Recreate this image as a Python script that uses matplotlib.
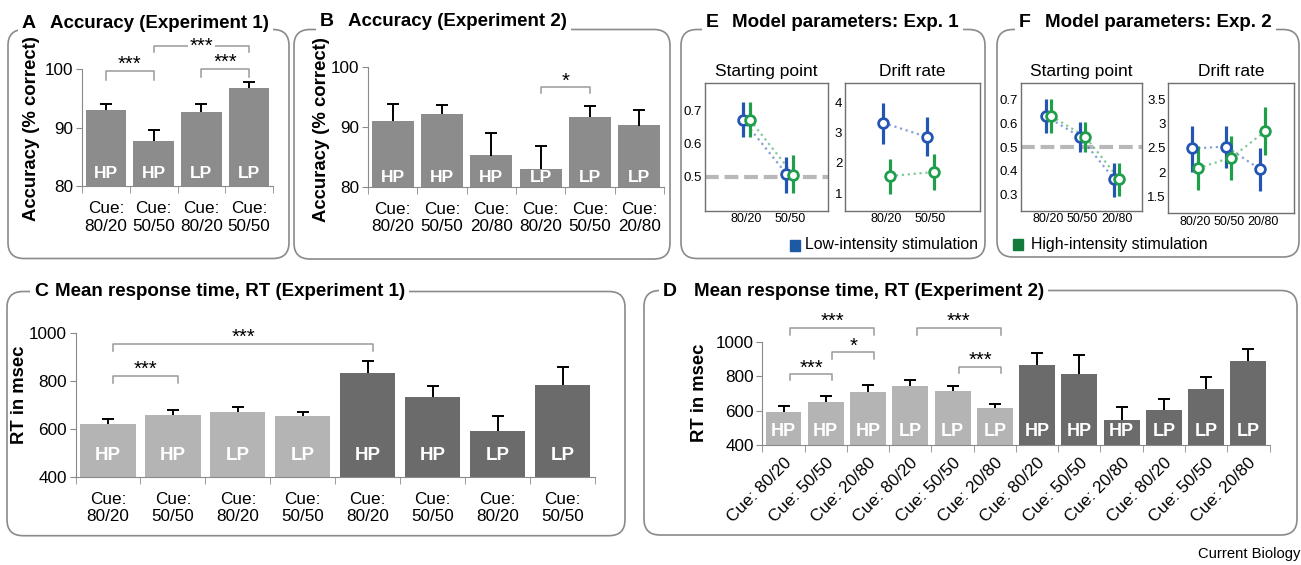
import numpy as np
import matplotlib
matplotlib.use('Agg')
import matplotlib.pyplot as plt
from matplotlib.patches import FancyBboxPatch, Rectangle

plt.rcParams['font.family'] = ['Liberation Sans', 'DejaVu Sans']

# ---- data ----
# A: accuracy, experiment 1
acc1_mean = [93.0, 87.7, 92.6, 96.7]
acc1_sem = [1.1, 1.9, 1.5, 1.0]
acc1_tags = ['HP', 'HP', 'LP', 'LP']
acc1_cues = ['80/20', '50/50', '80/20', '50/50']

# B: accuracy, experiment 2
acc2_mean = [91.0, 92.1, 85.2, 82.9, 91.6, 90.2]
acc2_sem = [2.8, 1.6, 3.8, 3.9, 1.9, 2.6]
acc2_tags = ['HP', 'HP', 'HP', 'LP', 'LP', 'LP']
acc2_cues = ['80/20', '50/50', '20/80', '80/20', '50/50', '20/80']

# C: RT, experiment 1 (first four light, last four dark)
rt1_mean = [618, 657, 668, 653, 831, 731, 590, 781]
rt1_sem = [22, 22, 24, 18, 51, 47, 63, 75]
rt1_tags = ['HP', 'HP', 'LP', 'LP', 'HP', 'HP', 'LP', 'LP']
rt1_cues = ['80/20', '50/50'] * 4
rt1_shade = ['light'] * 4 + ['dark'] * 4

# D: RT, experiment 2
rt2_mean = [590, 648, 706, 741, 712, 613, 863, 810, 543, 601, 723, 888]
rt2_sem = [38, 37, 40, 36, 31, 23, 73, 111, 80, 68, 72, 71]
rt2_tags = ['HP', 'HP', 'HP', 'LP', 'LP', 'LP'] * 2
rt2_cues = ['80/20', '50/50', '20/80'] * 4
rt2_shade = ['light'] * 6 + ['dark'] * 6

# significance brackets: (bar i, bar j, top y, leg y, label)
acc1_sig = [(0, 1, 99.7, 98.1, '***'), (2, 3, 100.0, 98.6, '***'), (1, 3, 103.9, 102.9, '***')]
acc2_sig = [(3, 4, 96.6, 95.6, '*')]
rt1_sig = [(0, 1, 820, 792, '***'), (0, 4, 953, 925, '***')]
rt2_sig = [(0, 1, 812, 777, '***'), (1, 2, 938, 901, '*'), (0, 2, 1081, 1039, '***'),
           (3, 5, 1081, 1039, '***'), (4, 5, 855, 820, '***')]

# E: model parameters, experiment 1
e_cues = ['80/20', '50/50']
e_sp_low, e_sp_low_lo, e_sp_low_hi = [0.670, 0.509], [0.618, 0.453], [0.725, 0.561]
e_sp_high, e_sp_high_lo, e_sp_high_hi = [0.670, 0.507], [0.618, 0.453], [0.725, 0.565]
e_dr_low, e_dr_low_lo, e_dr_low_hi = [3.32, 2.86], [2.64, 2.23], [3.98, 3.50]
e_dr_high, e_dr_high_lo, e_dr_high_hi = [1.57, 1.70], [0.98, 1.11], [2.12, 2.29]

# F: model parameters, experiment 2
f_cues = ['80/20', '50/50', '20/80']
f_sp_low, f_sp_low_lo, f_sp_low_hi = [0.632, 0.544, 0.364], [0.561, 0.477, 0.289], [0.703, 0.608, 0.431]
f_sp_high, f_sp_high_lo, f_sp_high_hi = [0.632, 0.544, 0.362], [0.561, 0.480, 0.291], [0.703, 0.608, 0.431]
f_dr_low, f_dr_low_lo, f_dr_low_hi = [2.49, 2.53, 2.06], [2.00, 2.08, 1.61], [2.96, 2.96, 2.49]
f_dr_high, f_dr_high_lo, f_dr_high_hi = [2.08, 2.30, 2.85], [1.62, 1.83, 2.35], [2.54, 2.75, 3.35]

# ---- styles ----
MID = '#8c8c8c'
LIGHT = '#b4b4b4'
DARK = '#6b6b6b'
BLUE = '#2455b3'
GREEN = '#1f9e4c'
AXC = '#8a8a8a'

W, H = 1301, 565
fig = plt.figure(figsize=(W / 100, H / 100), dpi=100)
bg = fig.add_axes([0, 0, 1, 1])
bg.set_xlim(0, W)
bg.set_ylim(H, 0)
bg.axis('off')

titles = []


def px_axes(x0, y0, x1, y1):
    return fig.add_axes([x0 / W, 1 - y1 / H, (x1 - x0) / W, (y1 - y0) / H])


def frame(x0, y0, x1, y1, letter, lx, title, tx, ty):
    bg.add_patch(FancyBboxPatch((x0, y0), x1 - x0, y1 - y0,
                                boxstyle='round,pad=0,rounding_size=16',
                                fc='none', ec=AXC, lw=1.2, zorder=1))
    bg.text(lx, ty, letter, fontsize=14, fontweight='bold', va='baseline', zorder=3)
    t = bg.text(tx, ty, title, fontsize=13.5, fontweight='bold', va='baseline', zorder=3)
    titles.append((lx, t, y0))


def bar_panel(ax, means, sems, tags, cues, colors, ylim, yticks, tag_px, tag_size, sig,
              sig_dx=0.0, rotate=False):
    n = len(means)
    x = np.arange(n)
    means = np.array(means, float)
    tops = means + np.array(sems, float)
    ax.bar(x, means - ylim[0], bottom=ylim[0], width=0.85, color=colors, zorder=2)
    ax.vlines(x, means, tops, color='black', lw=1.4, zorder=3)
    ax.plot(x, tops, ls='none', marker='_', ms=8, mew=1.4, color='black', zorder=3)
    ax.set_xlim(-0.5, n - 0.5)
    ax.set_ylim(*ylim)
    ax.set_yticks(yticks)
    ax.set_facecolor('none')
    for s in ['top', 'right']:
        ax.spines[s].set_visible(False)
    for s in ['left', 'bottom']:
        ax.spines[s].set_color(AXC)
    ax.set_xticks(x)
    if rotate:
        ax.set_xticklabels(['Cue: ' + c for c in cues], rotation=45, ha='right',
                           rotation_mode='anchor', fontsize=12.3)
        ax.tick_params(axis='x', length=0, pad=7)
    else:
        ax.set_xticklabels(['Cue:\n' + c for c in cues], fontsize=12.3)
        ax.tick_params(axis='x', length=0, pad=11)
    ax.set_xticks(np.arange(n + 1) - 0.5, minor=True)
    ax.tick_params(axis='x', which='minor', length=5, color=AXC)
    ax.tick_params(axis='y', length=4, color=AXC, pad=2, labelsize=12.3)
    # HP / LP tags inside bars
    trans = ax.get_xaxis_transform()
    hgt = ax.get_position().height * H
    for xi, t in zip(x, tags):
        ax.text(xi, tag_px / hgt, t, transform=trans, ha='center', va='center',
                color='white', fontsize=tag_size, fontweight='bold', zorder=4)
    for i, j, top, leg, lab in sig:
        xa, xb = i + sig_dx, j + sig_dx
        ax.plot([xa, xa, xb, xb], [leg, top, top, leg], color='#9a9a9a', lw=1.1, clip_on=False)
        ax.annotate(lab, ((xa + xb) / 2, top), xytext=(0, 0.5), textcoords='offset points',
                    ha='center', va='baseline', fontsize=14.5, annotation_clip=False)


def model_panel(ax, cues, low, low_lo, low_hi, high, high_lo, high_hi, xlim, ylim,
                yticks, ylabels, subtitle, ref=None):
    x = np.arange(1, len(cues) + 1)
    if ref is not None:
        ax.axhline(ref, color='#b8b8b8', lw=3, dashes=(3.3, 1.4), zorder=1)
    for xs, m, lo, hi, c in ((x - 0.08, low, low_lo, low_hi, BLUE),
                             (x + 0.08, high, high_lo, high_hi, GREEN)):
        ax.plot(xs, m, ls=':', color=c, lw=1.6, alpha=0.55, zorder=2)
        ax.vlines(xs, lo, hi, color=c, lw=2.3, zorder=3)
        ax.plot(xs, m, 'o', ms=7, mfc='white', mec=c, mew=2, zorder=4)
    ax.set_xlim(*xlim)
    ax.set_ylim(*ylim)
    ax.set_xticks(x)
    ax.set_xticklabels(cues, fontsize=9)
    ax.set_yticks(yticks)
    ax.set_yticklabels(ylabels, fontsize=9.5)
    ax.tick_params(length=0, pad=2)
    for s in ax.spines.values():
        s.set_color('#707070')
        s.set_linewidth(1.0)
    ax.set_title(subtitle, fontsize=12.5, pad=5)


# ---- frames and titles ----
frame(8, 29.5, 289, 258.5, 'A', 22, 'Accuracy (Experiment 1)', 50, 28.5)
frame(294, 29.5, 670, 259, 'B', 320, 'Accuracy (Experiment 2)', 348, 26.5)
frame(681, 29.5, 985, 258.5, 'E', 706, 'Model parameters: Exp. 1', 732, 26.7)
frame(997, 29.5, 1299, 257, 'F', 1019, 'Model parameters: Exp. 2', 1045, 26.7)
frame(7, 291.5, 625, 535.7, 'C', 34, 'Mean response time, RT (Experiment 1)', 55, 296)
frame(644, 290.5, 1297, 535, 'D', 663, 'Mean response time, RT (Experiment 2)', 694, 296.5)

# ---- A ----
axA = px_axes(82, 69, 273, 186)
bar_panel(axA, acc1_mean, acc1_sem, acc1_tags, acc1_cues, [MID] * 4, (80, 100),
          [80, 90, 100], 12, 12.5, acc1_sig[:2])
i, j, top, leg, lab = acc1_sig[2]
axA.plot([i, i, j, j], [leg, top, top, leg], color='#9a9a9a', lw=1.1, clip_on=False)
axA.text((i + j) / 2, 103.0, lab, ha='center', va='baseline', fontsize=14.5,
         bbox=dict(fc='white', ec='none', pad=1), clip_on=False)
bg.text(32, 129, 'Accuracy (% correct)', rotation=90, ha='center', va='center',
        fontsize=13.3, fontweight='bold')

# ---- B ----
axB = px_axes(368, 66.7, 664, 186.7)
bar_panel(axB, acc2_mean, acc2_sem, acc2_tags, acc2_cues, [MID] * 6, (80, 100),
          [80, 90, 100], 9, 12.5, acc2_sig)
bg.text(322, 130, 'Accuracy (% correct)', rotation=90, ha='center', va='center',
        fontsize=13.3, fontweight='bold')

# ---- C ----
axC = px_axes(75.5, 332.7, 595, 476.7)
bar_panel(axC, rt1_mean, rt1_sem, rt1_tags, rt1_cues,
          [LIGHT if s == 'light' else DARK for s in rt1_shade], (400, 1000),
          [400, 600, 800, 1000], 21, 13.5, rt1_sig, sig_dx=0.08)
bg.text(20, 395, 'RT in msec', rotation=90, ha='center', va='center',
        fontsize=13.3, fontweight='bold')

# ---- D ----
axD = px_axes(762.4, 341.7, 1269.5, 445)
bar_panel(axD, rt2_mean, rt2_sem, rt2_tags, rt2_cues,
          [LIGHT if s == 'light' else DARK for s in rt2_shade], (400, 1000),
          [400, 600, 800, 1000], 13, 13, rt2_sig, sig_dx=0.15, rotate=True)
bg.text(699, 393, 'RT in msec', rotation=90, ha='center', va='center',
        fontsize=13.3, fontweight='bold')

# ---- E ----
axE1 = px_axes(705, 83, 828, 210.7)
model_panel(axE1, e_cues, e_sp_low, e_sp_low_lo, e_sp_low_hi, e_sp_high, e_sp_high_lo,
            e_sp_high_hi, (0.04, 2.88), (0.399, 0.781), [0.5, 0.6, 0.7],
            ['0.5', '0.6', '0.7'], 'Starting point', ref=0.5)
axE2 = px_axes(845, 82.7, 980, 210.7)
model_panel(axE2, e_cues, e_dr_low, e_dr_low_lo, e_dr_low_hi, e_dr_high, e_dr_high_lo,
            e_dr_high_hi, (0.04, 3.15), (0.43, 4.64), [1, 2, 3, 4],
            ['1', '2', '3', '4'], 'Drift rate')
bg.add_patch(Rectangle((790, 239.5), 10, 11, color='#1c5aa6'))
bg.text(805, 245, 'Low-intensity stimulation', fontsize=11.4, va='center')

# ---- F ----
axF1 = px_axes(1020.7, 83.3, 1141.7, 210.7)
model_panel(axF1, f_cues, f_sp_low, f_sp_low_lo, f_sp_low_hi, f_sp_high, f_sp_high_lo,
            f_sp_high_hi, (0.19, 3.73), (0.229, 0.771), [0.3, 0.4, 0.5, 0.6, 0.7],
            ['0.3', '0.4', '0.5', '0.6', '0.7'], 'Starting point', ref=0.5)
axF2 = px_axes(1168.3, 82.7, 1294, 213.3)
model_panel(axF2, f_cues, f_dr_low, f_dr_low_lo, f_dr_low_hi, f_dr_high, f_dr_high_lo,
            f_dr_high_hi, (0.21, 3.93), (1.14, 3.86), [1.5, 2, 2.5, 3, 3.5],
            ['1.5', '2', '2.5', '3', '3.5'], 'Drift rate')
bg.add_patch(Rectangle((1013, 238.5), 10, 11, color='#127a3b'))
bg.text(1031, 244, 'High-intensity stimulation', fontsize=11.4, va='center')

bg.text(1300, 558, 'Current Biology', fontsize=10.6, ha='right', va='baseline')

# break the frame lines behind the panel titles
fig.canvas.draw()
for lx, t, y0 in titles:
    x1 = t.get_window_extent().x1
    bg.add_patch(Rectangle((lx - 4, y0 - 4), x1 + 4 - (lx - 4), 8, fc='white', ec='none', zorder=2))

fig.savefig('out.png', dpi=100)
